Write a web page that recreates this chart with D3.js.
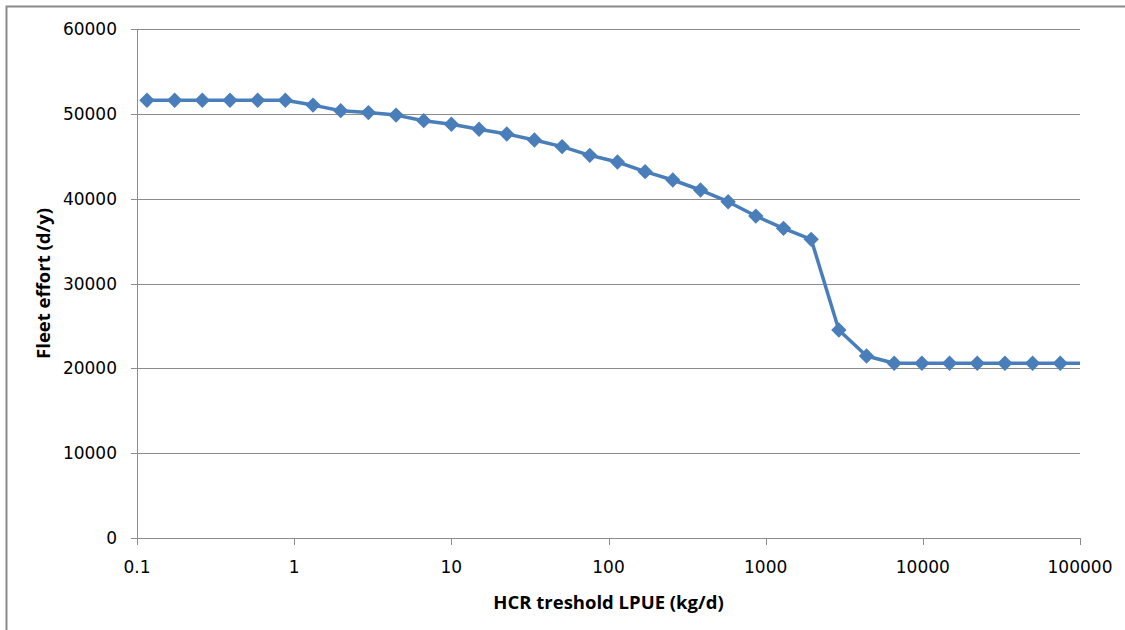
<!DOCTYPE html>
<html>
<head>
<meta charset="utf-8">
<script src="https://cdn.jsdelivr.net/npm/d3@7"></script>
<style>
    html, body { margin: 0; padding: 0; background: #fff; overflow: hidden; }
</style>
</head>
<body>
<script>
// HCR threshold vs fleet effort, Excel-style scatter with log x axis

// threshold LPUE (kg/d)
let thresholds = [0.1157, 0.1736, 0.2604, 0.3905, 0.5858, 0.8787, 1.318, 1.977, 2.966, 4.449,
    6.673, 10.01, 15.01, 22.52, 33.78, 50.67, 76.0, 114.0, 171.0, 256.5,
    384.8, 577.2, 865.7, 1298.6, 1947.9, 2921.9, 4382.8, 6574, 9861, 14792,
    22188, 33282, 49923, 74885, 112327];
// fleet effort (d/y)
let effort = [51600, 51600, 51600, 51600, 51600, 51600, 51030, 50370, 50150, 49850,
    49190, 48770, 48180, 47620, 46920, 46130, 45110, 44320, 43180, 42200,
    41020, 39640, 37950, 36500, 35210, 24520, 21450, 20600, 20600, 20600,
    20600, 20600, 20600, 20600, 20600];

let x_ticks = [0.1, 1, 10, 100, 1000, 10000, 100000];
let y_ticks = [0, 10000, 20000, 30000, 40000, 50000, 60000];

let x_title = 'HCR treshold LPUE (kg/d)';
let y_title = 'Fleet effort (d/y)';

window.addEventListener('load', function() {
    let width = 1125;
    let height = 630;
    let plot = {left: 137, right: 1080, top: 29, bottom: 538};
    let blue = '#4a7ebb';
    let grid = '#8c8c8c';

    let svg = d3.select('body')
        .append('svg')
        .attr('width', width)
        .attr('height', height);

    // outer chart frame, runs off the right and bottom of the picture
    svg.append('rect')
        .attr('x', 6.5)
        .attr('y', 6.5)
        .attr('width', width + 20)
        .attr('height', height + 20)
        .style('fill', 'none')
        .style('stroke', '#8a8a8a')
        .style('stroke-width', 2);

    let x = d3.scaleLog()
        .domain([0.1, 100000])
        .range([plot.left, plot.right]);
    let y = d3.scaleLinear()
        .domain([0, 60000])
        .range([plot.bottom, plot.top]);

    // horizontal gridlines
    svg.append('g')
        .selectAll('line')
        .data(y_ticks)
        .join('line')
            .attr('x1', plot.left - 6)
            .attr('x2', plot.right)
            .attr('y1', (d) => Math.round(y(d)) + 0.5)
            .attr('y2', (d) => Math.round(y(d)) + 0.5)
            .style('stroke', grid)
            .style('stroke-width', 1);

    // y axis line
    svg.append('line')
        .attr('x1', plot.left + 0.5)
        .attr('x2', plot.left + 0.5)
        .attr('y1', plot.top)
        .attr('y2', plot.bottom + 7)
        .style('stroke', grid);

    // x tick marks
    svg.append('g')
        .selectAll('line')
        .data(x_ticks)
        .join('line')
            .attr('x1', (d) => Math.round(x(d)) + 0.5)
            .attr('x2', (d) => Math.round(x(d)) + 0.5)
            .attr('y1', plot.bottom)
            .attr('y2', plot.bottom + 7)
            .style('stroke', grid);

    // tick labels
    svg.append('g')
        .selectAll('text')
        .data(y_ticks)
        .join('text')
            .attr('x', plot.left - 20)
            .attr('y', (d) => y(d) + 6)
            .attr('text-anchor', 'end')
            .style('font-family', 'DejaVu Sans')
            .style('font-size', '17px')
            .style('fill', '#000')
            .text((d) => d);

    svg.append('g')
        .selectAll('text')
        .data(x_ticks)
        .join('text')
            .attr('x', (d) => x(d))
            .attr('y', 573)
            .attr('text-anchor', 'middle')
            .style('font-family', 'DejaVu Sans')
            .style('font-size', '17px')
            .style('fill', '#000')
            .text((d) => d);

    // axis titles
    svg.append('text')
        .attr('x', (plot.left + plot.right) / 2)
        .attr('y', 609)
        .attr('text-anchor', 'middle')
        .style('font-family', 'Open Sans')
        .style('font-weight', 'bold')
        .style('font-size', '18.5px')
        .text(x_title);

    svg.append('text')
        .attr('transform', 'translate(50,' + (plot.top + plot.bottom) / 2 + ') rotate(-90)')
        .attr('text-anchor', 'middle')
        .style('font-family', 'Open Sans')
        .style('font-weight', 'bold')
        .style('font-size', '18.5px')
        .text(y_title);

    // data line and markers, clipped to the plot area
    svg.append('clipPath')
        .attr('id', 'plot-clip')
        .append('rect')
            .attr('x', plot.left)
            .attr('y', plot.top - 10)
            .attr('width', plot.right - plot.left)
            .attr('height', plot.bottom - plot.top + 20);

    let points = thresholds.map((d, i) => [d, effort[i]]);
    let series = svg.append('g').attr('clip-path', 'url(#plot-clip)');

    series.append('path')
        .datum(points)
        .attr('d', d3.line().x((d) => x(d[0])).y((d) => y(d[1])))
        .style('fill', 'none')
        .style('stroke', blue)
        .style('stroke-width', 3.5)
        .style('stroke-linejoin', 'round');

    series.selectAll('.marker')
        .data(points)
        .join('path')
            .attr('class', 'marker')
            .attr('d', d3.symbol().type(d3.symbolDiamond2).size(150))
            .attr('transform', (d) => 'translate(' + x(d[0]) + ',' + y(d[1]) + ')')
            .style('fill', blue);
});
</script>
</body>
</html>
